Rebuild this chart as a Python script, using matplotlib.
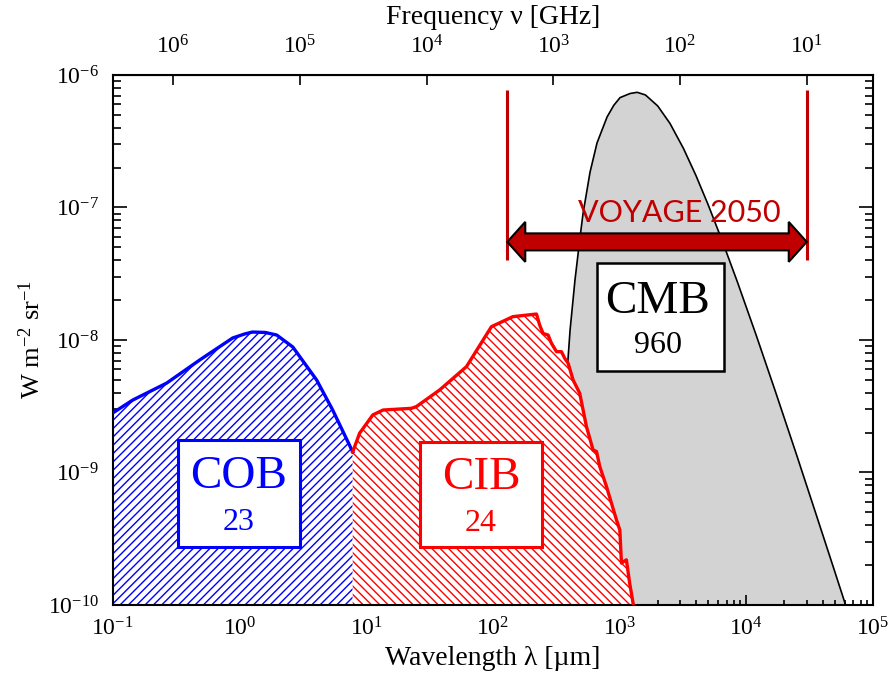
import matplotlib
matplotlib.use('Agg')
import matplotlib.pyplot as plt
from matplotlib.patches import Rectangle, Polygon
from matplotlib.ticker import LogLocator, NullLocator

plt.rcParams['font.family'] = ['Liberation Serif', 'DejaVu Serif']
plt.rcParams['mathtext.fontset'] = 'custom'
plt.rcParams['mathtext.rm'] = 'Liberation Serif'
plt.rcParams['mathtext.it'] = 'Liberation Serif:italic'
plt.rcParams['hatch.linewidth'] = 1.0

# ===== data (wavelength in um, intensity in W m-2 sr-1) =====
cob_lam = [0.1, 0.144, 0.267, 0.486, 0.885, 1.1, 1.27, 1.6, 1.97, 2.64, 4.07, 5.45, 7.84]
cob_flux = [2.81e-9, 3.52e-9, 4.73e-9, 7.06e-9, 1.035e-8, 1.11e-8, 1.148e-8, 1.14e-8,
            1.09e-8, 8.85e-9, 4.99e-9, 2.96e-9, 1.43e-9]

cib_lam = [7.84, 8.89, 11.3, 13.6, 22.8, 24.9, 38.1, 61.9, 97.5, 144, 221, 234,
           249, 273, 290, 318, 348, 369, 393, 430, 485, 548, 618, 658, 698, 789,
           946, 1005, 1035, 1132, 1202, 1279, 1300]
cib_flux = [1.43e-9, 1.98e-9, 2.72e-9, 2.96e-9, 3.05e-9, 3.14e-9, 4.20e-9, 6.29e-9,
            1.26e-8, 1.50e-8, 1.57e-8, 1.30e-8, 1.12e-8, 1.09e-8, 9.45e-9, 8.16e-9,
            8.16e-9, 7.28e-9, 6.67e-9, 4.99e-9, 3.96e-9, 2.22e-9, 1.48e-9, 1.44e-9,
            1.11e-9, 7.82e-10, 4.38e-10, 3.68e-10, 2.07e-10, 2.19e-10, 1.46e-10,
            1.03e-10, 1e-11]

cmb_lam = [255, 280, 340, 385, 407, 445, 488, 515, 585, 664, 797, 900, 1009, 1211,
           1377, 1600, 2000, 2500, 3200, 4000, 5000, 6500, 8500, 12000, 17000,
           25000, 35000, 50000, 65000, 75000]
cmb_flux = [1e-11, 1e-10, 1.5e-9, 5.64e-9, 1.19e-8, 2.84e-8, 5.99e-8, 9.0e-8,
            1.85e-7, 3.07e-7, 4.82e-7, 5.9e-7, 6.75e-7, 7.25e-7, 7.40e-7, 7.07e-7,
            5.84e-7, 4.31e-7, 2.78e-7, 1.75e-7, 1.05e-7, 5.51e-8, 2.75e-8, 1.08e-8,
            4.07e-9, 1.35e-9, 5.06e-10, 1.78e-10, 8.2e-11, 5e-11]

voyage_range = [130, 30000]        # um  (~2.3 THz .. 10 GHz)
voyage_span = [4.0e-8, 7.7e-7]
voyage_arrow_y = 5.5e-8

labels = {'COB': '23', 'CIB': '24', 'CMB': '960'}

BLUE = '#0000FF'
RED = '#FF0000'
DARKRED = '#C00000'
C_UM_GHZ = 299792.458


def draw_double_arrow(ax, x0, x1, y, shaft=8.5, head_w=20, head_l=18):
    (px0, py), (px1, _) = ax.transData.transform([(x0, y), (x1, y)])
    pts = [(px0, py), (px0 + head_l, py + head_w), (px0 + head_l, py + shaft),
           (px1 - head_l, py + shaft), (px1 - head_l, py + head_w), (px1, py),
           (px1 - head_l, py - head_w), (px1 - head_l, py - shaft),
           (px0 + head_l, py - shaft), (px0 + head_l, py - head_w)]
    pts = ax.transAxes.inverted().transform(pts)
    ax.add_patch(Polygon(pts, closed=True, transform=ax.transAxes,
                         facecolor=DARKRED, edgecolor='black', lw=1.5, zorder=6))


def label_box(ax, rect, name, num, color, lw, name_xy, num_xy):
    ax.add_patch(Rectangle(rect[:2], rect[2], rect[3], transform=ax.transAxes,
                           facecolor='white', edgecolor=color, lw=lw, zorder=7))
    ax.text(*name_xy, name, transform=ax.transAxes, ha='center', va='center',
            fontsize=34, color=color, zorder=8)
    ax.text(*num_xy, num, transform=ax.transAxes, ha='center', va='center',
            fontsize=23, color=color, zorder=8)


fig = plt.figure(figsize=(8.92, 6.78), dpi=100)
ax = fig.add_axes([0.1263, 0.1077, 0.8524, 0.7817])
ax.set_xscale('log')
ax.set_yscale('log')
ax.set_xlim(0.1, 1e5)
ax.set_ylim(1e-10, 1e-6)

# CMB
ax.fill_between(cmb_lam, cmb_flux, 1e-12, facecolor='#D3D3D3', lw=0, zorder=1)
ax.plot(cmb_lam, cmb_flux, color='black', lw=1.2, zorder=1.5)

# COB / CIB hatched
ax.fill_between(cob_lam, cob_flux, 1e-12, facecolor='white', edgecolor=BLUE,
                hatch='////', lw=0, zorder=2)
ax.fill_between(cib_lam, cib_flux, 1e-12, facecolor='white', edgecolor=RED,
                hatch='\\\\\\\\', lw=0, zorder=2)
ax.plot(cob_lam, cob_flux, color=BLUE, lw=2.4, zorder=3)
ax.plot(cib_lam, cib_flux, color=RED, lw=2.4, zorder=3)

# Voyage 2050 band
ax.vlines(voyage_range, *voyage_span, color=DARKRED, lw=2.2, zorder=5)
draw_double_arrow(ax, voyage_range[0], voyage_range[1], voyage_arrow_y)
ax.text(2950, 7.8e-8, 'VOYAGE 2050', ha='center', va='baseline', fontsize=22,
        color=DARKRED, family=['Lato', 'DejaVu Sans'], zorder=7)

label_box(ax, (0.0863, 0.110, 0.160, 0.2013), 'COB', labels['COB'], BLUE, 2.2,
          (0.1661, 0.2415), (0.1661, 0.1547))
label_box(ax, (0.4042, 0.110, 0.160, 0.1981), 'CIB', labels['CIB'], RED, 2.2,
          (0.4844, 0.2396), (0.4844, 0.1528))
label_box(ax, (0.6366, 0.4421, 0.1674, 0.2026), 'CMB', labels['CMB'], 'black', 1.8,
          (0.7172, 0.5717), (0.7172, 0.4887))

# axes styling
for s in ax.spines.values():
    s.set_linewidth(1.5)
ax.xaxis.set_major_locator(LogLocator(base=10, numticks=10))
ax.xaxis.set_minor_locator(LogLocator(base=10, subs=range(2, 10), numticks=20))
ax.yaxis.set_minor_locator(LogLocator(base=10, subs=range(2, 10), numticks=20))
ax.tick_params(which='both', direction='in', top=False, right=True, width=1.2,
               labelsize=17)
ax.tick_params(axis='x', which='major', length=7, pad=9)
ax.tick_params(axis='x', which='minor', length=3.5)
ax.tick_params(axis='y', which='major', length=10, pad=10)
ax.tick_params(axis='y', which='minor', length=6)

ax.set_xlabel('Wavelength λ [µm]', fontsize=20, labelpad=4)
ax.set_ylabel(r'W m$^{-2}$ sr$^{-1}$', fontsize=19, labelpad=2)

secax = ax.secondary_xaxis('top', functions=(lambda x: C_UM_GHZ / x,
                                              lambda x: C_UM_GHZ / x))
secax.xaxis.set_minor_locator(NullLocator())
secax.tick_params(which='major', direction='in', length=7, width=1.2,
                  labelsize=17, pad=12)
secax.set_xlabel('Frequency ν [GHz]', fontsize=20, labelpad=8)

fig.savefig('out.png', dpi=100)
plt.close(fig)
